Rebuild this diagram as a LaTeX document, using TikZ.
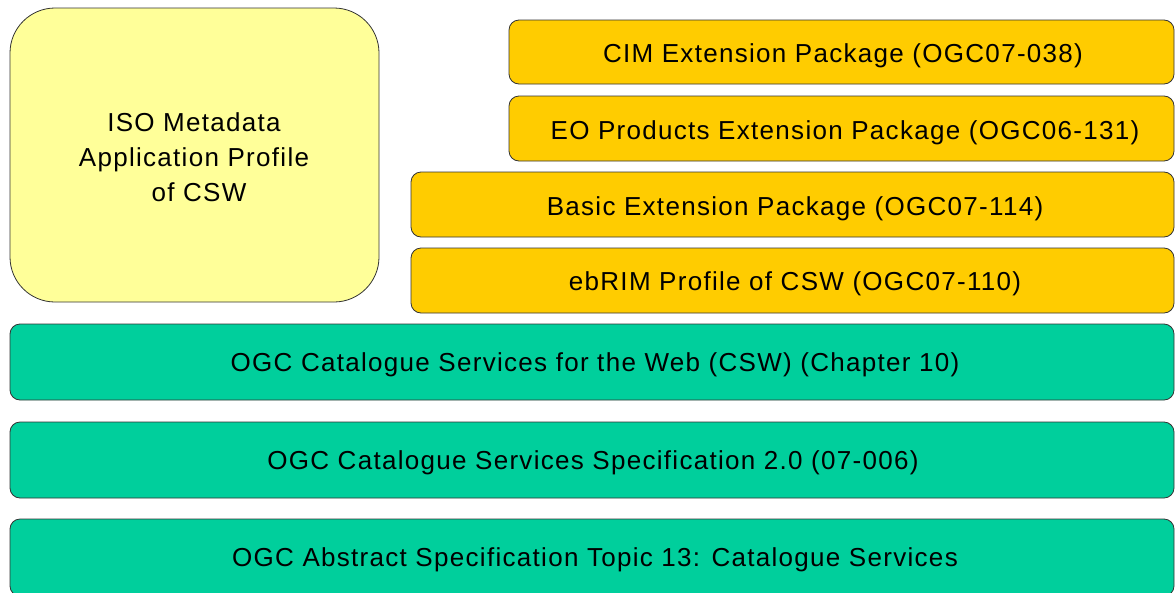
\documentclass[tikz,border=0pt]{standalone}
\usepackage{fontspec}
\setmainfont{Liberation Sans}[LetterSpace=5]
\definecolor{isoyellow}{HTML}{FFFF99}
\definecolor{extgold}{HTML}{FFCC00}
\definecolor{basegreen}{HTML}{00CF9C}
\definecolor{edge}{HTML}{333333}
\begin{document}
\begin{tikzpicture}[x=1pt,y=-1pt,
  layer/.style={draw=edge, line width=0.8pt, rounded corners=10pt},
  isobox/.style={layer, fill=isoyellow, rounded corners=45pt},
  extbox/.style={layer, fill=extgold},
  basebox/.style={layer, fill=basegreen},
  lbl/.style={inner sep=0pt, anchor=base, font=\fontsize{26}{31}\selectfont}]
\useasboundingbox (0,0) rectangle (1175,592);
% boxes
\path[isobox] (10,8) rectangle (379,302);
\node[inner sep=0pt, font=\fontsize{26}{35}\selectfont, align=center] (iso) at (194,157) {ISO Metadata\\Application Profile\\\hspace*{10pt}of CSW};
\draw[extbox] (509,20) rectangle (1174,84);
\node[lbl] (cim) at (843,62) {CIM Extension Package (OGC07-038)};
\draw[extbox] (509,96) rectangle (1174,161);
\node[lbl] (eo) at (845,139) {EO Products Extension Package (OGC06-131)};
\draw[extbox] (411,172) rectangle (1174,237);
\node[lbl] (basic) at (795,215) {Basic Extension Package (OGC07-114)};
\draw[extbox] (411,248) rectangle (1174,313);
\node[lbl] (ebrim) at (795,290) {ebRIM Profile of CSW (OGC07-110)};
\draw[basebox] (10,324) rectangle (1174,400);
\node[lbl] (csw) at (595,371) {OGC Catalogue Services for the Web (CSW) (Chapter 10)};
\draw[basebox] (10,422) rectangle (1174,498);
\node[lbl] (cat) at (593,469) {OGC Catalogue Services Specification 2.0 (07-006)};
\draw[basebox] (10,519) rectangle (1174,596);
\node[lbl] (abs) at (595,566) {OGC Abstract Specification Topic 13: Catalogue Services};
\end{tikzpicture}
\end{document}
